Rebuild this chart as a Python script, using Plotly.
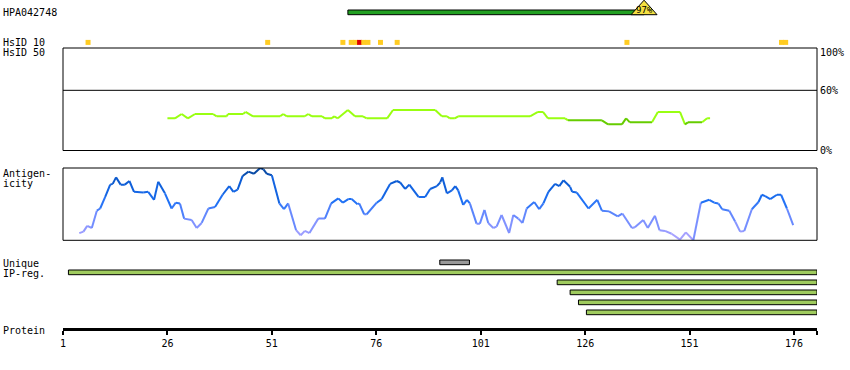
import plotly.graph_objects as go

W, H = 850, 370
FONT = "DejaVu Sans Mono"

# ---------------- data ----------------
protein_len_end = 181.5
tick_vals = [1, 26, 51, 76, 101, 126, 151, 176]

antigen_name = "HPA042748"
antigen_start, antigen_end = 69.2, 140.1
antigen_identity = "97%"

hsid10_res = [7, 50, 68, 70, 71, 72, 73, 74, 77, 81, 136, 173, 174]
hsid10_level = ["mid", "mid", "mid", "mid", "mid", "high", "mid", "mid", "mid", "mid", "mid", "mid", "mid"]

hs50_res = [26.0, 27.8, 29.4, 30.9, 32.6, 36.9, 37.8, 40.2, 40.5, 44.1, 44.7, 46.5, 53.0, 53.7,
            54.6, 58.9, 59.7, 60.6, 63.0, 63.7, 65.4, 65.9, 66.8, 69.2, 70.9, 72.8, 73.7, 78.6,
            80.0, 90.1, 91.7, 92.9, 93.6, 94.8, 95.6, 112.8, 114.7, 115.9, 117.1, 121.2,
            121.9, 130.0, 131.5, 134.8, 135.8, 136.7, 142.0, 143.4, 148.7, 149.9, 150.6, 154.0,
            155.2, 155.9]
hs50_pct = [32.1, 32.1, 36.4, 32.1, 36.4, 36.4, 34.1, 34.1, 36.4, 36.4, 38.4, 34.1, 34.1, 36.4,
            34.1, 34.1, 36.4, 34.1, 34.1, 32.1, 32.1, 34.1, 32.1, 40.4, 34.1, 34.1, 32.1, 32.1,
            40.4, 40.4, 34.1, 34.1, 32.1, 32.1, 34.1, 34.1, 38.4, 38.4, 32.1, 32.1,
            30.1, 30.1, 26.1, 26.1, 32.1, 28.1, 28.1, 38.4, 38.4, 26.1, 28.1, 28.1,
            32.1, 32.1]
hs50_low = [r for r in hs50_res if (121.9 <= r <= 142.0) or (149.9 <= r <= 154.0)]

ag_res = [4.9, 5.9, 6.8, 7.9, 9.1, 9.9, 11.1, 12.3, 12.9, 13.7,
          14.8, 15.8, 16.9, 18.0, 20.2, 21.4, 22.8, 23.8, 25.4, 27.0,
          28.0, 29.0, 30.0, 31.8, 33.0, 34.2, 35.8, 37.4, 39.2, 40.8,
          41.8, 42.8, 44.0, 45.4, 46.7, 48.2, 49.0, 49.8, 51.0, 52.8,
          53.9, 54.9, 56.8, 57.9, 58.9, 60.0, 62.1, 63.7, 65.2, 66.9,
          68.0, 69.3, 70.1, 71.5, 71.9, 73.1, 73.7, 76.1, 77.3, 79.3,
          80.9, 81.7, 82.9, 83.9, 86.1, 87.7, 88.9, 90.5, 91.3, 91.8,
          92.9, 94.1, 94.9, 95.6, 96.8, 97.7, 98.4, 100.0, 100.8, 101.9,
          102.8, 104.0, 104.8, 106.0, 107.8, 108.8, 110.0, 111.0, 112.0, 113.8,
          115.0, 116.0, 117.2, 118.8, 119.8, 120.8, 122.4, 122.9, 124.0, 126.8,
          128.9, 130.0, 131.7, 133.8, 134.9, 137.2, 137.9, 139.9, 141.0, 142.7,
          143.8, 145.1, 146.7, 148.7, 150.1, 151.9, 153.7, 155.7, 156.9, 157.9,
          158.8, 160.5, 161.9, 163.1, 164.1, 165.9, 167.5, 168.3, 169.1, 170.3,
          171.9, 172.9, 174.3, 175.8]
ag_val = [0.10, 0.12, 0.20, 0.17, 0.41, 0.44, 0.60, 0.77, 0.78, 0.87,
          0.77, 0.77, 0.82, 0.67, 0.66, 0.67, 0.56, 0.81, 0.65, 0.44,
          0.52, 0.51, 0.30, 0.28, 0.17, 0.24, 0.44, 0.46, 0.63, 0.75,
          0.67, 0.70, 0.89, 0.95, 0.92, 1.00, 0.98, 0.92, 0.90, 0.51,
          0.43, 0.51, 0.14, 0.07, 0.13, 0.10, 0.30, 0.30, 0.51, 0.58,
          0.52, 0.57, 0.57, 0.50, 0.51, 0.36, 0.36, 0.52, 0.57, 0.78,
          0.82, 0.80, 0.71, 0.77, 0.60, 0.60, 0.71, 0.75, 0.80, 0.87,
          0.65, 0.69, 0.75, 0.69, 0.49, 0.56, 0.51, 0.23, 0.23, 0.42,
          0.24, 0.17, 0.19, 0.35, 0.10, 0.35, 0.30, 0.24, 0.44, 0.53,
          0.43, 0.51, 0.67, 0.78, 0.75, 0.83, 0.74, 0.67, 0.66, 0.44,
          0.56, 0.41, 0.40, 0.33, 0.37, 0.17, 0.18, 0.28, 0.17, 0.34,
          0.14, 0.13, 0.09, 0.01, 0.11, 0.00, 0.52, 0.56, 0.52, 0.51,
          0.43, 0.41, 0.26, 0.12, 0.13, 0.43, 0.53, 0.63, 0.61, 0.57,
          0.63, 0.63, 0.44, 0.21]
assert len(ag_res) == len(ag_val)

unique_start, unique_end = 91.2, 98.3
ipreg_start = [2.3, 119.3, 122.4, 124.4, 126.3]
ipreg_end = [181.5, 181.5, 181.5, 181.5, 181.5]

# ---------------- helpers ----------------
def py(y):
    return 1 - y / H

def px(x):
    return x / W

def lerp_color(v):
    stops = [(0.0, (178, 166, 255)), (0.3, (112, 140, 255)), (0.55, (30, 112, 245)),
             (0.8, (12, 92, 212)), (1.0, (8, 68, 150))]
    for (a, ca), (b, cb) in zip(stops[:-1], stops[1:]):
        if v <= b:
            t = (v - a) / (b - a) if b > a else 0
            c = [round(ca[i] + (cb[i] - ca[i]) * t) for i in range(3)]
            return "rgb(%d,%d,%d)" % tuple(c)
    return "rgb(%d,%d,%d)" % stops[-1][1]

fig = go.Figure()

# HsID 50 line
for i in range(len(hs50_res) - 1):
    low = hs50_res[i] in hs50_low and hs50_res[i + 1] in hs50_low
    fig.add_trace(go.Scatter(
        x=hs50_res[i:i + 2], y=hs50_pct[i:i + 2], mode="lines", xaxis="x", yaxis="y",
        line=dict(color="#66cc00" if low else "#99ff11", width=2),
        showlegend=False, hoverinfo="skip"))

# Antigenicity line
for i in range(len(ag_res) - 1):
    v = (ag_val[i] + ag_val[i + 1]) / 2
    fig.add_trace(go.Scatter(
        x=ag_res[i:i + 2], y=ag_val[i:i + 2], mode="lines", xaxis="x", yaxis="y2",
        line=dict(color=lerp_color(v), width=2),
        showlegend=False, hoverinfo="skip"))

# HsID 10 squares
fig.add_trace(go.Scatter(
    x=hsid10_res, y=[42.4] * len(hsid10_res), mode="markers", xaxis="x", yaxis="y3",
    marker=dict(symbol="square", size=5,
                color=["#dd0000" if l == "high" else "#ffcc22" for l in hsid10_level],
                line=dict(width=0)),
    showlegend=False, hoverinfo="skip"))

shapes = []
# panel frames
shapes.append(dict(type="rect", xref="x domain", yref="y domain", x0=0, x1=1, y0=0, y1=1,
                   line=dict(color="black", width=1)))
shapes.append(dict(type="line", xref="x domain", yref="y", x0=0, x1=1, y0=60, y1=60,
                   line=dict(color="black", width=1)))
shapes.append(dict(type="rect", xref="x domain", yref="y2 domain", x0=0, x1=1, y0=0, y1=1,
                   line=dict(color="black", width=1)))
# antigen bar
shapes.append(dict(type="rect", xref="x", yref="y3", x0=antigen_start, x1=antigen_end,
                   y0=10, y1=14.7, fillcolor="#22a022", line=dict(color="black", width=1)))
shapes.append(dict(type="path", xref="x", yref="y3", xsizemode="pixel", ysizemode="pixel",
                   xanchor=antigen_end, yanchor=14.7,
                   path="M -13,0 L 13,0 L 0,14.5 Z",
                   fillcolor="#f5e042", line=dict(color="black", width=1)))
# unique bar
shapes.append(dict(type="rect", xref="x", yref="y3", x0=unique_start, x1=unique_end,
                   y0=260, y1=264.7, fillcolor="#999999", line=dict(color="black", width=1)))
# IP-reg bars
for k, (s, e) in enumerate(zip(ipreg_start, ipreg_end)):
    y0 = 270 + 10 * k
    shapes.append(dict(type="rect", xref="x", yref="y3", x0=s, x1=e, y0=y0, y1=y0 + 4.7,
                       fillcolor="#9fcb5e", line=dict(color="black", width=1)))

annotations = []
def label(text, x, y, size=10, anchor="left"):
    annotations.append(dict(text=text, x=px(x), y=py(y), xref="paper", yref="paper",
                            xanchor=anchor, yanchor="middle", showarrow=False,
                            borderpad=0, borderwidth=0,
                            font=dict(family=FONT, size=size, color="black")))

label(antigen_name, 3, 12.7)
label("HsID 10", 3, 42.3)
label("HsID 50", 3, 52.7)
label("Antigen-", 3, 173.3)
label("icity", 3, 183.3)
label("Unique", 3, 263.3)
label("IP-reg.", 3, 273.3)
label("Protein", 3, 330)
label("100%", 820, 52.7)
label("60%", 820, 90.8)
label("0%", 820, 150)
annotations.append(dict(text=antigen_identity, x=antigen_end, y=9.8, xref="x", yref="y3",
                        showarrow=False, xanchor="center", yanchor="middle",
                        borderpad=0, borderwidth=0,
                        font=dict(family=FONT, size=9, color="black")))

fig.update_layout(
    width=W, height=H, autosize=False,
    margin=dict(l=0, r=0, t=0, b=0, pad=0, autoexpand=False),
    paper_bgcolor="white", plot_bgcolor="rgba(0,0,0,0)",
    showlegend=False,
    xaxis=dict(domain=[px(63), px(817)], range=[1, protein_len_end], anchor="free",
               position=py(329.3), showgrid=False, zeroline=False, automargin=False,
               showline=True, linecolor="black", linewidth=3,
               ticks="outside", ticklen=4, tickwidth=2, tickcolor="black",
               tickvals=tick_vals + [protein_len_end],
               ticktext=[str(t) for t in tick_vals] + [""],
               tickfont=dict(family=FONT, size=10, color="black"), fixedrange=True),
    yaxis=dict(domain=[py(150.5), py(48)], range=[0, 102.2], visible=False, fixedrange=True,
               anchor="x", automargin=False),
    yaxis2=dict(domain=[py(240.3), py(168)], range=[0, 1], visible=False, fixedrange=True,
                anchor="x", automargin=False),
    yaxis3=dict(domain=[0, 1], range=[H, 0], visible=False, fixedrange=True, anchor="x",
                automargin=False),
    shapes=shapes, annotations=annotations,
)

fig.write_html("out.html")
